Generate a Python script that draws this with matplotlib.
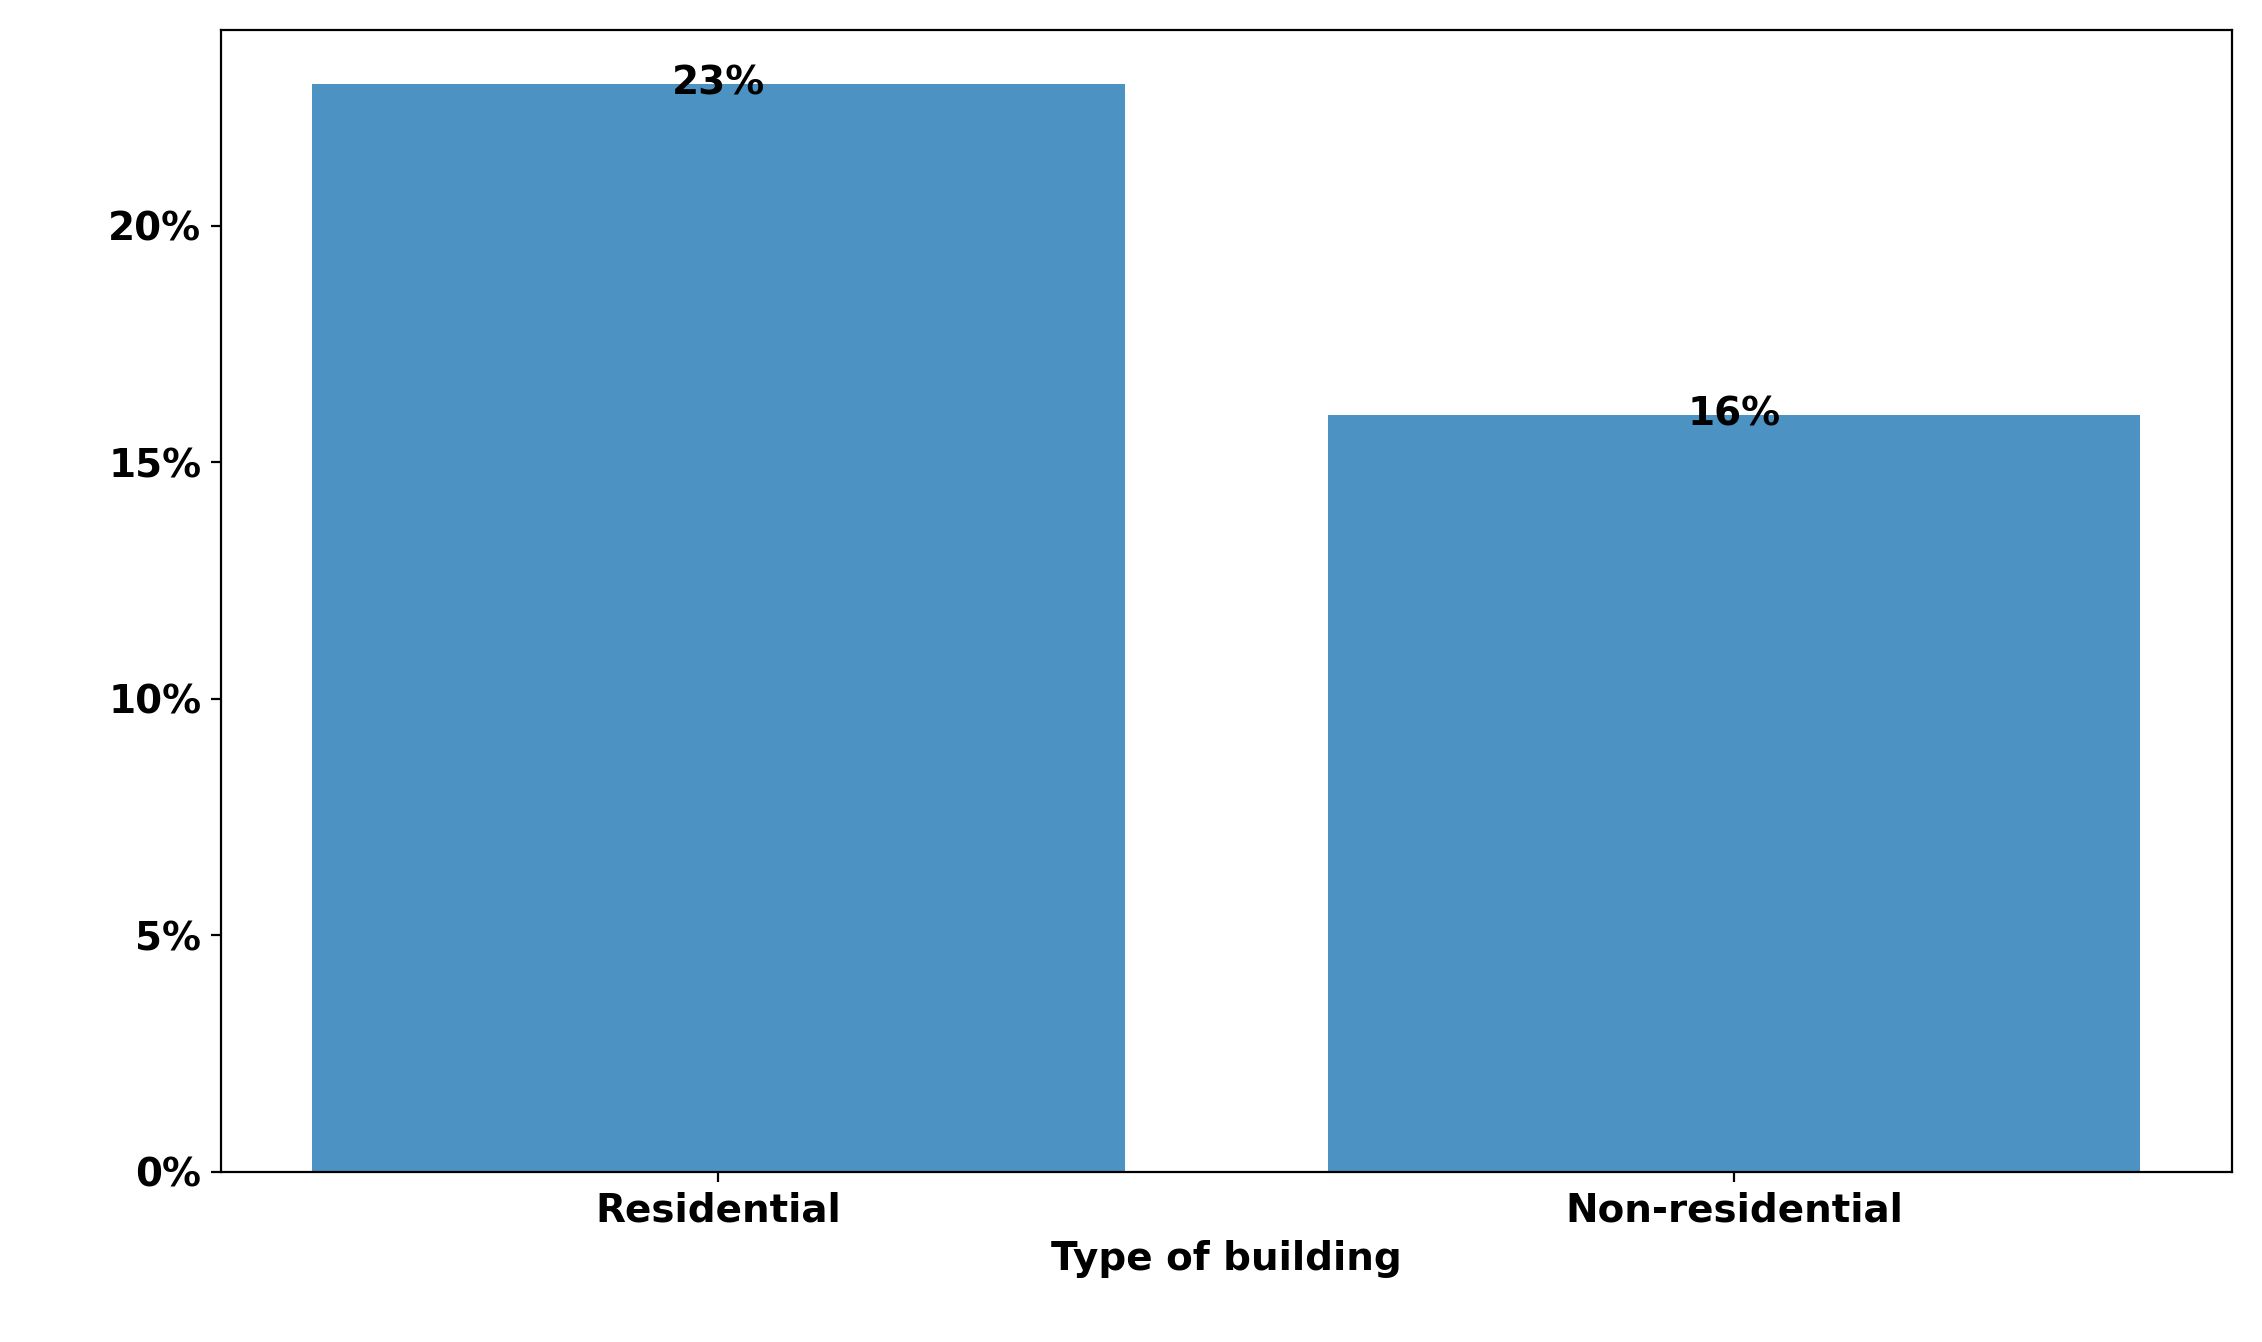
import matplotlib
matplotlib.use("Agg")
import matplotlib.pyplot as plt
from matplotlib.ticker import FuncFormatter

categories = ["Residential", "Non-residential"]
shares = [23, 16]
labels = ["23%", "16%"]

plt.rcParams['font.weight'] = 'bold'
fig, ax = plt.subplots(figsize=(11.31, 6.71), dpi=200)
fig.subplots_adjust(left=0.0976, right=0.9866, top=0.978, bottom=0.127)

x = range(len(categories))
ax.bar(x, shares, width=0.8, color='tab:blue', alpha=0.8)
for i, (v, t) in enumerate(zip(shares, labels)):
    ax.text(i, v, t, ha='center', va='center', fontsize=14, fontweight='bold')

ax.set_xticks(list(x))
ax.set_xticklabels(categories, fontsize=14, fontweight='bold')
ax.yaxis.set_major_formatter(FuncFormatter(lambda v, p: f"{v:.0f}%"))
for lab in ax.get_yticklabels():
    lab.set_fontsize(14)
    lab.set_fontweight('bold')
ax.tick_params(axis='y', labelsize=14)
ax.set_xlabel("Type of building", fontsize=14, fontweight='bold')

fig.savefig("out.png", dpi=200)
